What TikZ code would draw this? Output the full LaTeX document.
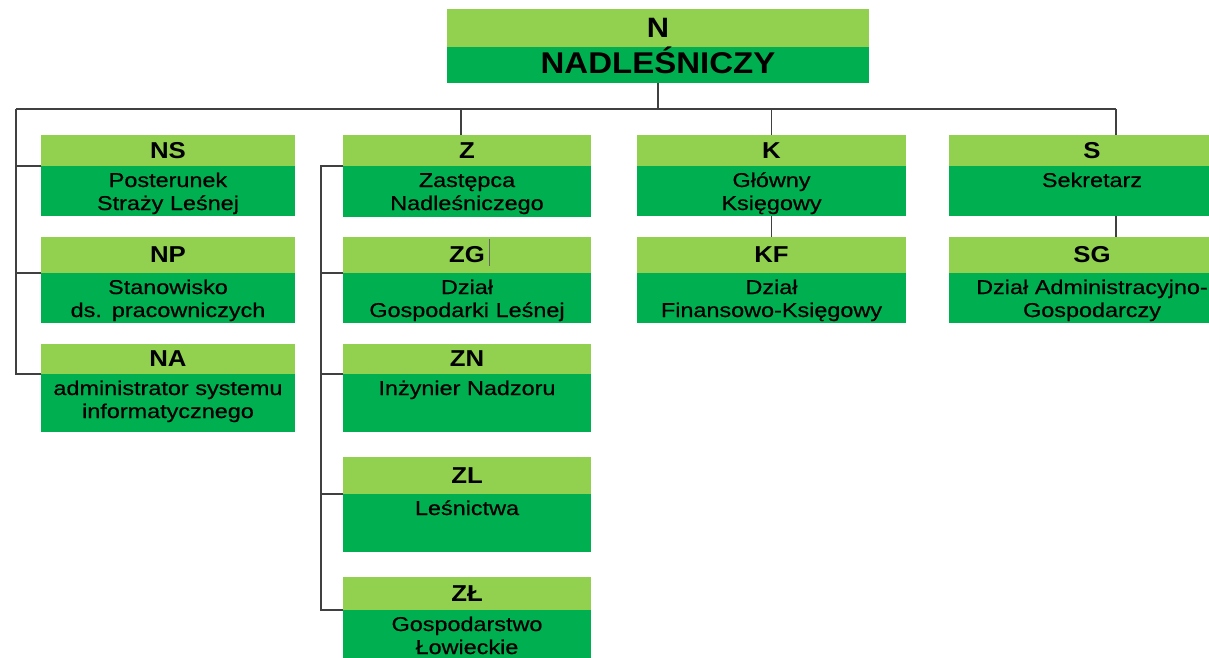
\documentclass[tikz,border=0pt]{standalone}
\usepackage{fontspec}
\setmainfont{Liberation Sans}
\newfontfamily\codefont[FakeStretch=1.12]{Liberation Sans}
\newfontfamily\bodyfont[FakeStretch=1.17,FakeBold=0.6]{Liberation Sans}
\newfontfamily\titlefont[FakeStretch=1.1]{Liberation Sans}
\usetikzlibrary{calc}
\definecolor{lightg}{RGB}{146,208,80}
\definecolor{darkg}{RGB}{0,176,80}
\definecolor{linec}{RGB}{64,64,64}
\tikzset{
  bar/.style={draw=none, inner sep=0pt, outer sep=0pt, anchor=north west},
  lightbar/.style={bar, fill=lightg, font=\codefont\bfseries\fontsize{23}{26}\selectfont},
  darkbar/.style={bar, fill=darkg},
  bodytext/.style={inner sep=0pt, outer sep=0pt, anchor=north, align=center, font=\bodyfont\fontsize{20}{23}\selectfont},
  conn/.style={draw=linec, line width=1.5pt},
}
\newcommand\orgunit[8]{%
  \node[lightbar, minimum width=#6pt, minimum height={#4pt-#3pt}] (#1) at (#2,#3) {#7};
  \node[darkbar, minimum width=#6pt, minimum height={#5pt-#4pt}] (#1d) at (#2,#4) {};
  \node[bodytext, text width=#6pt] (#1t) at ($(#1d.north)+(0,4.9)$) {\strut #8};
}
\begin{document}
\begin{tikzpicture}[x=1pt,y=-1pt]
\useasboundingbox (0,0) rectangle (1209,657);
\clip (0,0) rectangle (1209,657);
\fill[white] (0,0) rectangle (1209,657);
% top box
\node[bar, fill=lightg, minimum width=422pt, minimum height=38pt,
      font=\titlefont\bfseries\fontsize{28}{30}\selectfont] (n) at (447,9) {N};
\node[bar, fill=darkg, minimum width=422pt, minimum height=36pt,
      font=\titlefont\bfseries\fontsize{30}{32}\selectfont,
      text height=21.5pt, text depth=5pt] (nd) at (447,47) {NADLEŚNICZY};
% units
\orgunit{ns}{41}{135}{166}{216}{254}{NS}{Posterunek\\Straży Leśnej}
\orgunit{np}{41}{237}{273}{323}{254}{NP}{Stanowisko\\ds. pracowniczych}
\orgunit{na}{41}{344}{374}{432}{254}{NA}{administrator systemu\\informatycznego}
\orgunit{z}{343}{135}{166}{217}{248}{Z}{Zastępca\\Nadleśniczego}
\orgunit{zg}{343}{237}{273}{323}{248}{ZG}{Dział\\Gospodarki Leśnej}
\orgunit{zn}{343}{344}{374}{432}{248}{ZN}{Inżynier Nadzoru}
\orgunit{zl}{343}{457}{494}{552}{248}{ZL}{Leśnictwa}
\orgunit{zll}{343}{577}{610}{690}{248}{ZŁ}{Gospodarstwo\\Łowieckie}
\orgunit{k}{637}{135}{166}{216}{269}{K}{Główny\\Księgowy}
\orgunit{kf}{637}{237}{273}{323}{269}{KF}{Dział\\Finansowo-Księgowy}
\orgunit{s}{949}{135}{166}{216}{286}{S}{Sekretarz}
\orgunit{sg}{949}{237}{273}{323}{286}{SG}{Dział Administracyjno-\\Gospodarczy}
% connectors
\coordinate (busL) at (16,109);
\coordinate (busR) at (1116,109);
\coordinate (zt) at (321,166);
\coordinate (ztop) at ($(z.north west)+(118,0)$);
\draw[conn] (nd.south) -- (nd.south |- busL);
\draw[conn] (busL) -- (busR);
\draw[conn] (busL) |- (nad.north west);
\draw[conn] (busL |- nsd.north west) -- (nsd.north west);
\draw[conn] (busL |- npd.north west) -- (npd.north west);
\draw[conn] (ztop |- busL) -- (ztop);
\draw[conn] (zd.north west) -- (zt) |- (zlld.north west);
\draw[conn] (zt |- zgd.north west) -- (zgd.north west);
\draw[conn] (zt |- znd.north west) -- (znd.north west);
\draw[conn] (zt |- zld.north west) -- (zld.north west);
\draw[conn] (k.north |- busL) -- (k.north);
\draw[conn] (kd.south) -- (kf.north);
\draw[conn] (busR) -- (busR |- s.north);
\draw[conn] (busR |- sd.south) -- (busR |- sg.north);
% stray cursor mark beside ZG
\draw[draw=linec!80, line width=0.8pt] ($(zg.north)+(22,2)$) -- ($(zg.north)+(22,29)$);
\end{tikzpicture}
\end{document}
